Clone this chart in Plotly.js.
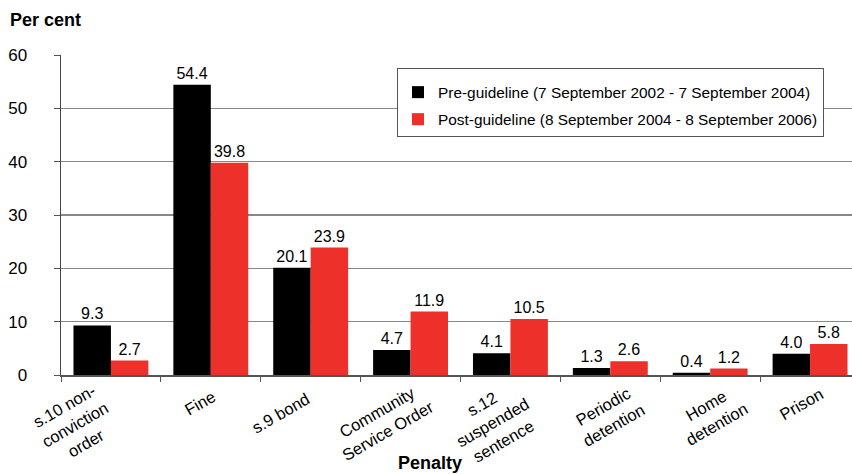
<!DOCTYPE html>
<html>
<head>
<meta charset="utf-8">
<script src="https://cdn.plot.ly/plotly-3.0.1.min.js"></script>
<style>
html,body{margin:0;padding:0;background:#fff;}
#chart{width:852px;height:474px;}
</style>
</head>
<body>
<div id="chart"></div>
<script>
const categories = ["s.10 non-<br>conviction<br>order", "Fine", "s.9 bond", "Community<br>Service Order", "s.12<br>suspended<br>sentence", "Periodic<br>detention", "Home<br>detention", "Prison"];
const preValues = [9.3, 54.4, 20.1, 4.7, 4.1, 1.3, 0.4, 4.0];
const postValues = [2.7, 39.8, 23.9, 11.9, 10.5, 2.6, 1.2, 5.8];
const preName = "Pre-guideline (7 September 2002 - 7 September 2004)";
const postName = "Post-guideline (8 September 2004 - 8 September 2006)";
const yTicks = [0, 10, 20, 30, 40, 50, 60];

// label placement (style only): pixel shift of each rotated label centre
const labelDx = [-36, -11, -30, -29, -18, -2, 1, -9];
const labelDy = [49, 28, 38, 46, 47, 40, 39, 29];

const FONT = '"Liberation Sans", Arial, sans-serif';

const common = {
  type: 'bar',
  x: categories,
  texttemplate: '%{y:.1f}',
  textposition: 'outside',
  textfont: {family: FONT, size: 16, color: '#000'},
  cliponaxis: false,
  hoverinfo: 'skip'
};

const traces = [
  Object.assign({}, common, {y: preValues, name: preName, legendgroup: 'pre', marker: {color: '#000000', line: {width: 0}}}),
  Object.assign({}, common, {y: postValues, name: postName, legendgroup: 'post', marker: {color: '#ee302a', line: {width: 0}}})
];

const annotations = categories.map((c, i) => ({
  text: c, xref: 'x', yref: 'paper', x: i, y: 0,
  xanchor: 'center', yanchor: 'middle', xshift: labelDx[i], yshift: -labelDy[i],
  textangle: -30, align: 'center', showarrow: false,
  font: {family: FONT, size: 16.5, color: '#000'}
}));
annotations.push(
  {text: '<b>Per cent</b>', xref: 'paper', yref: 'paper', x: -0.067, y: 1.109, xanchor: 'left', yanchor: 'middle', showarrow: false, font: {family: FONT, size: 18, color: '#000'}},
  {text: '<b>Penalty</b>', xref: 'paper', yref: 'paper', x: 0.4665, y: -0.275, xanchor: 'center', yanchor: 'middle', showarrow: false, font: {family: FONT, size: 18, color: '#000'}}
);

const layout = {
  width: 852, height: 474,
  margin: {l: 61, r: 0, t: 55, b: 99},
  paper_bgcolor: '#fff', plot_bgcolor: '#fff',
  barmode: 'group', bargap: 0.25, bargroupgap: 0,
  font: {family: FONT, size: 16, color: '#000'},
  showlegend: true,
  legend: {
    x: 0.4248, xanchor: 'left', y: 0.959, yanchor: 'top',
    bgcolor: '#fff', bordercolor: '#555', borderwidth: 1,
    font: {family: FONT, size: 15.4, color: '#000'},
    title: {text: ' ', font: {size: 5}},
    traceorder: 'grouped', tracegroupgap: 4
  },
  xaxis: {
    type: 'category', range: [-0.5, 7.42],
    tickson: 'boundaries', ticks: 'outside', ticklen: 5, tickcolor: '#555',
    showline: true, linecolor: '#555', linewidth: 1.5,
    showticklabels: false, showgrid: false, fixedrange: true, automargin: false
  },
  yaxis: {
    range: [0, 60], tickvals: yTicks, ticktext: yTicks.map(String),
    ticks: 'outside', ticklen: 6, tickcolor: '#555', ticklabelstandoff: 23,
    showline: true, linecolor: '#444', linewidth: 1.5,
    showgrid: true, gridcolor: '#888', gridwidth: 1.5,
    zeroline: false, automargin: false,
    tickfont: {family: FONT, size: 17, color: '#000'},
    fixedrange: true
  },
  annotations: annotations
};

Plotly.newPlot('chart', traces, layout, {displayModeBar: false, staticPlot: true});
</script>
</body>
</html>
